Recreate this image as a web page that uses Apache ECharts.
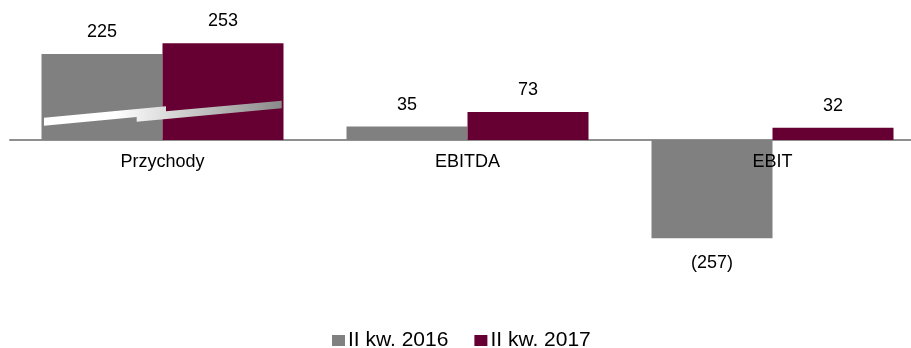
<!DOCTYPE html>
<html><head><meta charset="utf-8">
<script src="https://cdn.jsdelivr.net/npm/echarts@6/dist/echarts.min.js"></script>
<style>html,body{margin:0;padding:0;background:#fff}#c{width:911px;height:348px}</style>
</head><body><div id="c"></div>
<script>
const categories = ['Przychody', 'EBITDA', 'EBIT'];
const seriesNames = ['II kw. 2016', 'II kw. 2017'];
const q2_2016 = [225, 35, -257];
const q2_2017 = [253, 73, 32];

const FONT = '"Liberation Sans", Arial, sans-serif';
const fmt = p => p.value < 0 ? '(' + Math.abs(p.value) + ')' : String(p.value);
function lbl(v) { return { show: true, position: v < 0 ? 'bottom' : 'top', distance: v < 0 ? 16 : 13, formatter: fmt, fontFamily: FONT, fontSize: 18, color: '#000' }; }
function mk(vals) { return vals.map(v => ({ value: v, label: lbl(v) })); }

const chart = echarts.init(document.getElementById('c'), null, { renderer: 'canvas' });
const option = {
  animation: false,
  backgroundColor: '#fff',
  grid: { left: 10, right: -14, top: 10, bottom: 78, outerBoundsMode: 'none', containLabel: false },
  legend: {
    bottom: -8, left: 327, itemWidth: 13, itemHeight: 11, itemGap: 26,
    icon: 'rect',
    textStyle: { fontFamily: FONT, fontSize: 21, color: '#000', padding: [0, 0, 0, -2] },
    data: seriesNames
  },
  xAxis: [{
    type: 'category', data: categories,
    axisLine: { onZero: true, lineStyle: { color: '#8f8f8f', width: 2 } },
    axisTick: { show: false },
    axisLabel: { show: false }
  }, {
    type: 'category', data: categories, z: 10, position: 'bottom', offset: -130,
    axisLine: { show: false, onZero: false },
    axisTick: { show: false },
    axisLabel: { margin: 13, fontFamily: FONT, fontSize: 18, color: '#000' }
  }],
  yAxis: { type: 'value', min: -340, max: 340, show: false, splitLine: { show: false } },
  series: [
    { name: seriesNames[0], type: 'bar', data: mk(q2_2016), barWidth: 121, barGap: '0%', itemStyle: { color: '#808080' } },
    { name: seriesNames[1], type: 'bar', data: mk(q2_2017), barWidth: 121, barGap: '0%', itemStyle: { color: '#660033' } }
  ]
};
chart.setOption(option);

// decorative growth arrow over the first category
const cx = chart.convertToPixel({ xAxisIndex: 0 }, categories[0]);
const y0 = chart.convertToPixel({ yAxisIndex: 0 }, 0);
const rel = [[-118.5, -14.3], [-118.5, -22.3], [3.5, -33.7], [3.5, -28.7], [119.2, -39.3], [119.2, -31.7], [-25.8, -18.3], [-25.8, -23], [-118.5, -14.3]];
chart.setOption({
  graphic: [{
    type: 'polygon', z: 5,
    shape: { points: rel.map(p => [cx + p[0], y0 + p[1]]) },
    style: {
      fill: new echarts.graphic.LinearGradient(0, 0, 1, 0, [
        { offset: 0, color: '#ffffff' }, { offset: 0.3, color: '#ffffff' }, { offset: 1, color: '#8a8a8a' }
      ])
    }
  }]
});
</script></body></html>
